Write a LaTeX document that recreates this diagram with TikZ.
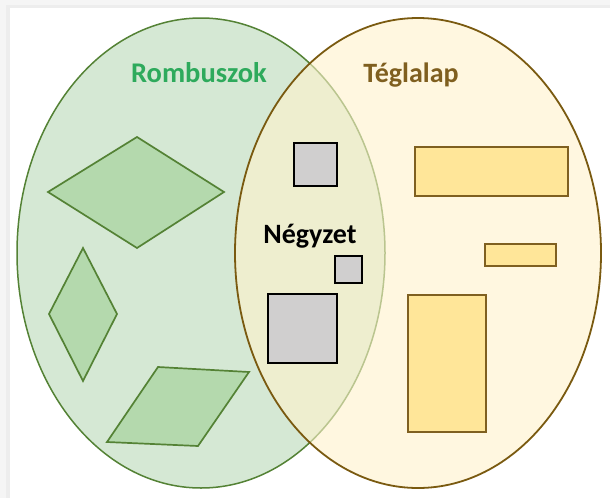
\documentclass[tikz,border=0pt]{standalone}
\usepackage{fontspec}
\setmainfont{Carlito}
\definecolor{gfill}{HTML}{D5E8D4}
\definecolor{gline}{HTML}{548235}
\definecolor{yfill}{HTML}{FFF2CC}
\definecolor{bline}{HTML}{7A5A10}
\definecolor{shapeg}{HTML}{B4D9AD}
\definecolor{recty}{HTML}{FFE699}
\definecolor{rectline}{HTML}{7F6020}
\definecolor{sqgray}{HTML}{D0CFCF}
\definecolor{txtg}{HTML}{2EAA5C}
\definecolor{txtb}{HTML}{7F5F1F}
\begin{document}
\begin{tikzpicture}[x=1pt,y=-1pt,
  setg/.style={fill=gfill,draw=gline,line width=1.5pt},
  sety/.style={fill=yfill,fill opacity=0.6,draw=bline,draw opacity=1,line width=1.8pt},
  rhomb/.style={fill=shapeg,draw=gline,line width=1.7pt,line join=miter},
  rect/.style={fill=recty,draw=rectline,line width=2pt},
  sq/.style={fill=sqgray,draw=black,line width=2pt},
  lbl/.style={font=\bfseries\fontsize{28}{32}\selectfont,anchor=base,inner sep=0pt}]
\useasboundingbox (0,0) rectangle (610,498);
% background card with shadow
\fill[gray!8] (0,0) rectangle (610,498);
\fill[gray!14] (6,5) rectangle (610,498);
\fill[white] (10,8) rectangle (610,498);
% sets
\draw[setg] (201,253) ellipse [x radius=184pt, y radius=235pt];
\draw[sety] (418,253) ellipse [x radius=183pt, y radius=235pt];
% rhombi
\draw[rhomb] (137,137) -- (224,192) -- (137,248) -- (48,192) -- cycle;
\draw[rhomb] (83,248) -- (117,314) -- (83,381) -- (49,314) -- cycle;
\draw[rhomb] (158,367) -- (249,372) -- (198,446) -- (107,442) -- cycle;
% rectangles
\draw[rect] (415,147) rectangle (568,196);
\draw[rect] (485,244) rectangle (556,266);
\draw[rect] (408,295) rectangle (486,432);
% squares
\draw[sq] (294,143) rectangle (337,186);
\draw[sq] (335,256) rectangle (362,283);
\draw[sq] (268,294) rectangle (337,363);
% labels
\node[lbl,text=txtg,font=\bfseries\fontsize{28.5}{32}\selectfont] (rom) at (199,82) {Rombuszok};
\node[lbl,text=txtb] (teg) at (411,82) {Téglalap};
\node[lbl,text=black] (negy) at (310,243) {Négyzet};
\end{tikzpicture}
\end{document}
